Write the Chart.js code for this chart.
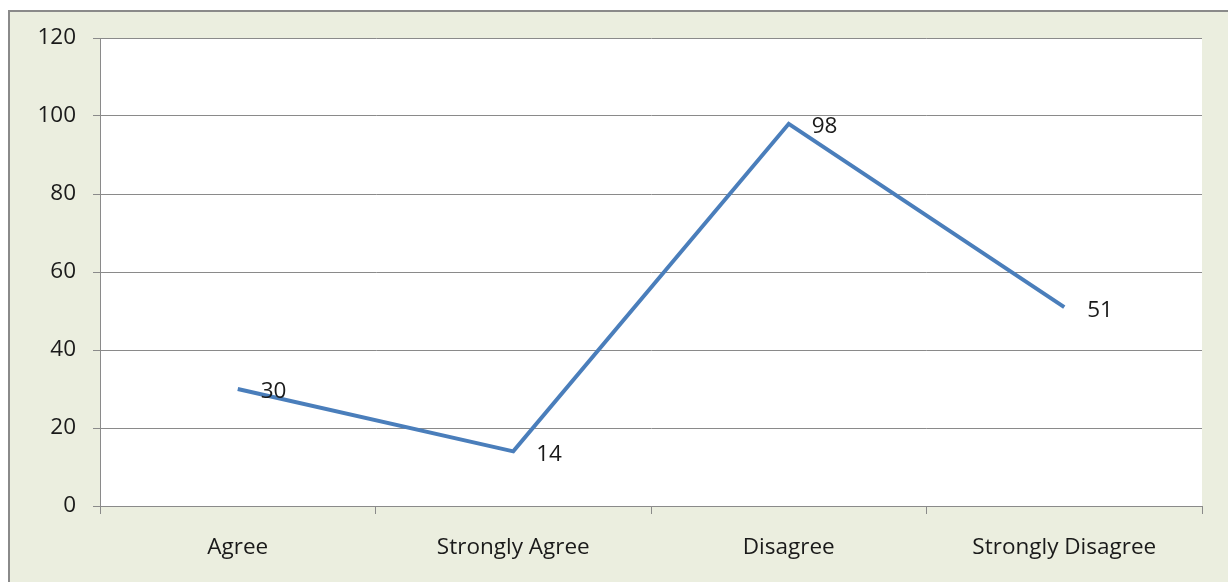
<!DOCTYPE html>
<html>
<head>
<meta charset="utf-8">
<script src="https://cdn.jsdelivr.net/npm/chart.js@4/dist/chart.umd.min.js"></script>
<style>
  html, body { margin: 0; padding: 0; background: #fff; overflow: hidden; }
  #frame {
    position: absolute; left: 8px; top: 10px; width: 1240px; height: 600px;
    background: #ebeedf; border-left: 2px solid #8a8a8a; border-top: 2px solid #8a8a8a;
  }
  #wrap { position: absolute; left: 0; top: 0; width: 1228px; height: 582px; }
</style>
</head>
<body>
<div id="frame"></div>
<div id="wrap"><canvas id="respostasChart"></canvas></div>
<script>
// --- Dados do gráfico ---
const categorias = ['Agree', 'Strongly Agree', 'Disagree', 'Strongly Disagree'];
const respostas = [30, 14, 98, 51];
const eixoY = { min: 0, max: 120, passo: 20 };

const fonte = "'Open Sans', Lato, sans-serif";
const tamFonte = 22.5;

// fundo branco só na área de plotagem
const fundoPlot = {
    id: 'fundoPlot',
    beforeDraw(chart) {
        const { ctx, chartArea: a } = chart;
        ctx.save();
        ctx.fillStyle = '#ffffff';
        ctx.fillRect(a.left, a.top, a.right - a.left, a.bottom - a.top);
        ctx.restore();
    }
};

// rótulos de valor à direita de cada ponto
const rotulos = {
    id: 'rotulos',
    afterDatasetsDraw(chart) {
        const { ctx } = chart;
        const meta = chart.getDatasetMeta(0);
        ctx.save();
        ctx.font = tamFonte + 'px ' + fonte;
        ctx.fillStyle = '#1a1a1a';
        ctx.textAlign = 'left';
        ctx.textBaseline = 'middle';
        meta.data.forEach((pt, i) => {
            ctx.fillText(String(respostas[i]), pt.x + 23, pt.y + 3);
        });
        ctx.restore();
    }
};

new Chart(document.getElementById('respostasChart'), {
    type: 'line',
    data: {
        labels: categorias,
        datasets: [{
            data: respostas,
            borderColor: '#4a7ebb',
            borderWidth: 4,
            pointRadius: 0,
            tension: 0,
            fill: false
        }]
    },
    options: {
        responsive: true,
        maintainAspectRatio: false,
        animation: false,
        layout: { padding: { left: 0, top: 38, right: 26, bottom: 0 } },
        plugins: { legend: { display: false }, tooltip: { enabled: false } },
        scales: {
            x: {
                offset: true,
                grid: { offset: true, drawOnChartArea: false, color: '#8a8a8a', tickLength: 8 },
                border: { color: '#8a8a8a', width: 1 },
                ticks: { color: '#1a1a1a', font: { family: fonte, size: tamFonte }, padding: 20, maxRotation: 0 },
                afterFit(scale) { scale.height = 76; }
            },
            y: {
                min: eixoY.min,
                max: eixoY.max,
                grid: { color: '#8a8a8a', tickLength: 7 },
                border: { color: '#8a8a8a', width: 1 },
                ticks: { stepSize: eixoY.passo, color: '#1a1a1a', font: { family: fonte, size: tamFonte }, padding: 17 },
                afterFit(scale) { scale.width = 100; }
            }
        }
    },
    plugins: [fundoPlot, rotulos]
});
</script>
</body>
</html>
